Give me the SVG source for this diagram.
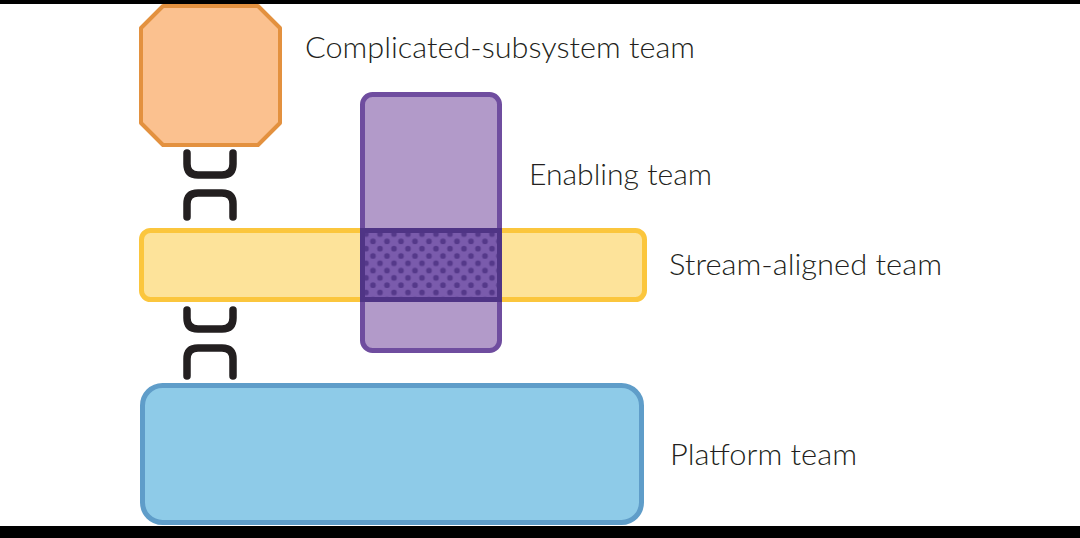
<svg xmlns="http://www.w3.org/2000/svg" width="1080" height="538" viewBox="0 0 1080 538">
  <defs>
    <style>
      .lbl { font-family: "Lato", "Liberation Sans", sans-serif; font-size: 29px; font-weight: 300; fill: #231f20; }
      .link { fill: none; stroke: #231f20; stroke-width: 7.5; stroke-linecap: round; stroke-linejoin: round; }
    </style>
    <pattern id="dots" x="362.5" y="230.5" width="14" height="14.6" patternUnits="userSpaceOnUse">
      <rect width="14" height="14.6" fill="#7a5bac"/>
      <circle cx="3.5" cy="3.6" r="2.8" fill="#55398a"/>
      <circle cx="10.5" cy="10.9" r="2.8" fill="#55398a"/>
    </pattern>
  </defs>
  <rect width="1080" height="538" fill="#ffffff"/>
  <rect x="0" y="0" width="1080" height="4" fill="#000000"/>
  <rect x="0" y="526" width="1080" height="12" fill="#000000"/>

  <g id="links">
    <path class="link" d="M187,153 V164 Q187,175 198,175 H222 Q233,175 233,164 V153"/>
    <path class="link" d="M187,217 V204 Q187,193 198,193 H222 Q233,193 233,204 V217"/>
    <path class="link" d="M187,310 V318 Q187,329 198,329 H222 Q233,329 233,318 V310"/>
    <path class="link" d="M187,376 V359 Q187,348 198,348 H222 Q233,348 233,359 V376"/>
  </g>

  <g id="complicated-subsystem">
    <polygon points="163,6 258,6 280,28 280,123 258,145 163,145 141,123 141,28" fill="#fbc18f" stroke="#e3913f" stroke-width="4" stroke-linejoin="round"/>
    <text class="lbl" x="305" y="58" textLength="390" lengthAdjust="spacingAndGlyphs">Complicated-subsystem team</text>
  </g>

  <g id="stream-aligned">
    <rect x="141.5" y="230.5" width="503" height="69" rx="9" fill="#fde39a" stroke="#fbc63d" stroke-width="5"/>
    <text class="lbl" x="669" y="275" textLength="273" lengthAdjust="spacingAndGlyphs">Stream-aligned team</text>
  </g>

  <g id="enabling">
    <rect x="362.5" y="94.5" width="137" height="256" rx="10" fill="#b29ac9" stroke="#6f4d9f" stroke-width="5"/>
    <rect x="362.5" y="230.5" width="137" height="69" fill="url(#dots)" stroke="#4f3485" stroke-width="5"/>
    <text class="lbl" x="529" y="185" textLength="183" lengthAdjust="spacingAndGlyphs">Enabling team</text>
  </g>

  <g id="platform">
    <rect x="142.5" y="385.5" width="499" height="137" rx="20" fill="#8ecbe8" stroke="#5f9dc9" stroke-width="5"/>
    <text class="lbl" x="670" y="465" textLength="187" lengthAdjust="spacingAndGlyphs">Platform team</text>
  </g>
</svg>
